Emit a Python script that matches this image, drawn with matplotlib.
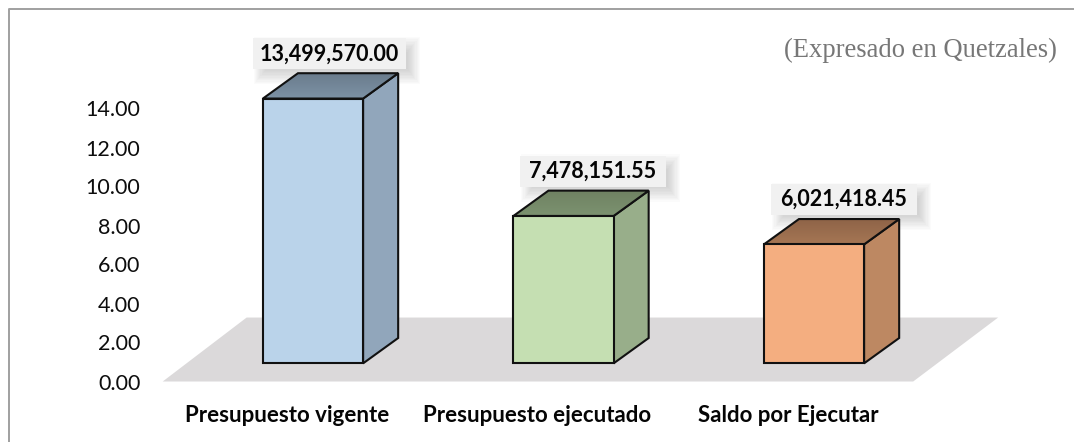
import numpy as np
import matplotlib
matplotlib.use('Agg')
import matplotlib.pyplot as plt
from matplotlib.lines import Line2D
from matplotlib.patches import Polygon, Rectangle

categories = ['Presupuesto vigente', 'Presupuesto ejecutado', 'Saldo por Ejecutar']
values = [13.49957, 7.47815155, 6.02141845]
value_labels = ['13,499,570.00', '7,478,151.55', '6,021,418.45']
yticks = [0, 2, 4, 6, 8, 10, 12, 14]

front_colors = ['#bad3ea', '#c5dfb2', '#f4ae80']
side_colors = ['#91a6bb', '#98ae8a', '#bd8862']
top_back = ['#6a7c8c', '#6f8262', '#8d6347']
top_front = ['#7d92a6', '#7c9270', '#a67654']

W, H = 1074, 442
BAR_W = 0.40
DX, DY = 0.14, 1.3       # depth of the boxes (x units, value units)
BASE = 0.93              # front of the boxes above the floor edge
FLOOR_H = 3.28
LABEL_DX = [0.065, 0.118, 0.12]

# px per unit: x 250.5, y 19.5
x0px, y0px = 313, 381.5
xlim = (-0.6, 2.735)
ylim = (0, 18.5)

fig = plt.figure(figsize=(W / 100, H / 100), dpi=100)
ax = fig.add_axes([(x0px + xlim[0] * 250.5) / W, (H - y0px) / H,
                   (xlim[1] - xlim[0]) * 250.5 / W, ylim[1] * 19.5 / H])
ax.set_xlim(xlim)
ax.set_ylim(ylim)
for s in ax.spines.values():
    s.set_visible(False)
ax.patch.set_visible(False)

# outer frame, only top and left reach inside the picture
fig.add_artist(Line2D([8.5 / W, 8.5 / W, 1], [0, (H - 8.5) / H, (H - 8.5) / H],
                      transform=fig.transFigure, color='#a0a0a0', lw=1.4))

# floor
ax.add_patch(Polygon([(-0.6, 0), (2.396, 0), (2.735, FLOOR_H), (-0.265, FLOOR_H)],
                     fc='#dbd9da', ec='none', zorder=1, clip_on=False))

for i, v in enumerate(values):
    l, r = i - BAR_W / 2, i + BAR_W / 2
    bot, top = BASE, BASE + v + 0.08

    # value label with its soft shadow
    cx = i + LABEL_DX[i]
    cy = top + DY + 1.0
    w, h = 0.305 if i == 0 else 0.29, 0.8
    for k in range(14):
        gx = 0.0045 * (k - 7)
        gy = 0.07 * (k - 7)
        ax.add_patch(Rectangle((cx - w + 0.03 - gx, cy - h - 0.35 - gy), 2 * (w + gx), 2 * (h + gy),
                               fc='#808080', ec='none', alpha=0.03, zorder=2))
    ax.add_patch(Rectangle((cx - w, cy - h), 2 * w, 2 * h, fc='#f1f1f1', ec='none', zorder=3))
    ax.text(cx, cy, value_labels[i], ha='center', va='center', family='Lato',
            fontweight='bold', fontsize=15.5, color='#050505', zorder=7)

    # side face
    ax.add_patch(Polygon([(r, bot), (r + DX, bot + DY), (r + DX, top + DY), (r, top)],
                         fc=side_colors[i], ec='#111111', lw=1.5, joinstyle='miter', zorder=4))
    # top face with gradient
    c0 = np.array(matplotlib.colors.to_rgb(top_front[i]))
    c1 = np.array(matplotlib.colors.to_rgb(top_back[i]))
    t = np.linspace(0, 1, 32)[:, None]
    im = ax.imshow((c0 + (c1 - c0) * t)[:, None, :], origin='lower', aspect='auto',
                   extent=(l, r + DX, top, top + DY), zorder=4.5)
    poly = Polygon([(l, top), (r, top), (r + DX, top + DY), (l + DX, top + DY)],
                   fc='none', ec='#111111', lw=1.5, joinstyle='miter', zorder=5)
    ax.add_patch(poly)
    im.set_clip_path(poly)
    # front face
    ax.add_patch(Rectangle((l, bot), BAR_W, top - bot, fc=front_colors[i], ec='#111111', lw=1.5, zorder=6))

ax.set_xlim(xlim)
ax.set_ylim(ylim)

ax.set_yticks(yticks)
ax.set_yticklabels(['%.2f' % t for t in yticks], family='Lato', fontsize=15.5, color='#0d0d0d')
ax.set_xticks(np.arange(3) - 0.104)
ax.set_xticklabels(categories, family='Lato', fontweight='bold', fontsize=16, color='#050505')
ax.tick_params(axis='y', length=0, pad=16)
ax.tick_params(axis='x', length=0, pad=17)

fig.text(1057 / W, (H - 50) / H, '(Expresado en Quetzales)', ha='right', va='center',
         family='Liberation Serif', fontsize=19.2, color='#777777')

fig.savefig('out.png', dpi=100)
